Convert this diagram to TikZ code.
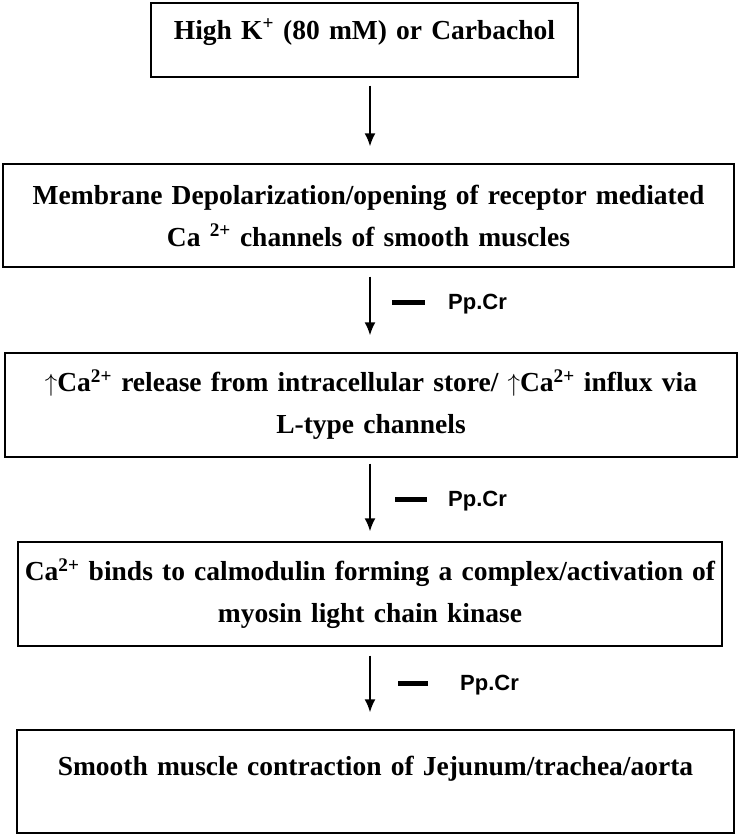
\documentclass[tikz,border=0pt]{standalone}
\usepackage{fontspec}
\setmainfont{Liberation Serif}
\newfontfamily\drugfont{Liberation Sans}
\usepackage{tikz}
\usetikzlibrary{arrows.meta}

\tikzstyle{stepbox} =
[rectangle, draw=black, line width=1.4pt, inner sep=0pt, align=center,
font=\fontsize{27.5}{42}\selectfont\bfseries]
\tikzstyle{blocker} =
[anchor=west, inner sep=0pt, font=\drugfont\fontsize{22}{22}\selectfont\bfseries]
\tikzstyle{line} = [draw, line width=1.7pt, -{Latex[length=13pt, width=11pt]}]

\begin{document}
\begin{tikzpicture}[node distance = 189pt]
  \useasboundingbox (0pt,0pt) rectangle (750pt,-838pt);
  \coordinate (axis) at (370pt,0pt);
  % boxes
  \node [stepbox, text width=427pt, text height=36pt, text depth=38pt]
   (highk) at (364.5pt,-40pt) {High K\textsuperscript{+} (80 mM) or Carbachol};
  \node [stepbox, text width=731pt, minimum height=103pt, below of=highk,
   node distance=175.5pt, xshift=4pt] (depol)
   {Membrane Depolarization/opening of receptor mediated\\
    Ca \textsuperscript{2+} channels of smooth muscles};
  \node [stepbox, text width=732pt, minimum height=104pt, below of=depol,
   node distance=189.5pt, xshift=2.5pt] (release)
   {$\uparrow$Ca\textsuperscript{2+} release from intracellular store/ $\uparrow$Ca\textsuperscript{2+} influx via\\
    L-type channels};
  \node [stepbox, text width=704pt, minimum height=104pt, below of=release,
   xshift=-1pt] (calmod)
   {Ca\textsuperscript{2+} binds to calmodulin forming a complex/activation of\\
    myosin light chain kinase};
  \node [stepbox, text width=717pt, text height=45pt, text depth=58pt,
   below of=calmod, node distance=187.5pt, xshift=5.5pt] (contract)
   {Smooth muscle contraction of Jejunum/trachea/aorta};
  % arrows
  \path [line, shorten <=8pt, shorten >=17pt] (highk.south -| axis) -- (depol.north -| axis);
  \path [line, shorten <=9pt, shorten >=17pt] (depol.south -| axis) -- (release.north -| axis);
  \path [line, shorten <=6pt, shorten >=10pt] (release.south -| axis) -- (calmod.north -| axis);
  \path [line, shorten <=9pt, shorten >=17pt] (calmod.south -| axis) -- (contract.north -| axis);
  % inhibition by Pp.Cr
  \node [blocker, xshift=22pt, yshift=-36pt] (block1) at (depol.south -| axis)
   {\rule[4pt]{33pt}{5pt}\hspace{23pt}Pp.Cr};
  \node [blocker, xshift=25pt, yshift=-43pt] (block2) at (release.south -| axis)
   {\rule[4pt]{32pt}{5pt}\hspace{21pt}Pp.Cr};
  \node [blocker, xshift=28pt, yshift=-38pt] (block3) at (calmod.south -| axis)
   {\rule[4pt]{30pt}{5pt}\hspace{32pt}Pp.Cr};
\end{tikzpicture}
\end{document}
